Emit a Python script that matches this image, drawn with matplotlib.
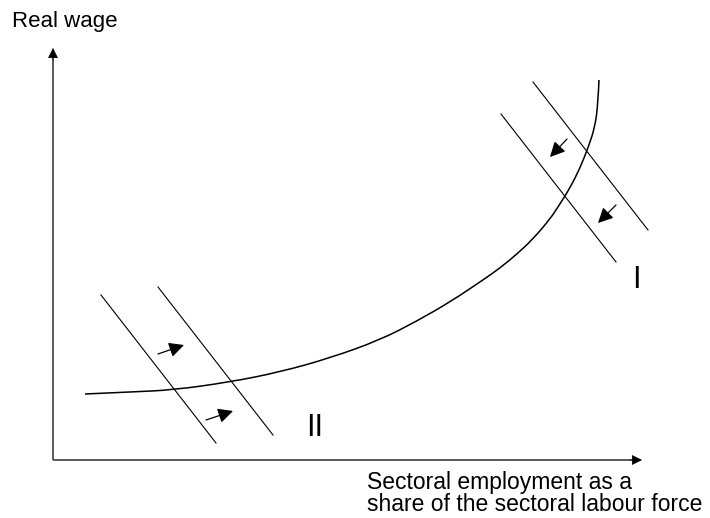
import matplotlib
matplotlib.use("Agg")
import matplotlib.pyplot as plt
from matplotlib.path import Path
from matplotlib.patches import PathPatch

# Coordinates in image pixel space (x right, y down)
curve_x = [85, 130, 173, 230, 280, 330, 380, 417, 450, 483, 500, 517, 533, 550, 558, 570, 580, 588, 595, 598, 599]
curve_y = [394, 392, 390, 382, 372, 358, 340, 321, 302, 280, 268, 254, 239, 219, 207, 188, 168, 148, 127, 103, 80]

# Shifting lines (x0, y0, x1, y1)
lines_I = [(533, 82, 648, 230), (501, 114, 616, 262)]
lines_II = [(101, 295, 216, 443), (158, 287, 273, 435)]

# Small arrows (x_from, y_from, x_to, y_to)
arrows_I = [(567, 139, 550, 157), (616, 205, 598, 223)]
arrows_II = [(158, 354, 184, 345), (206, 420, 233, 411)]

origin = (53, 460)
y_axis_top = 48
x_axis_end = 642

labels = {"I": (636, 288), "II": (315, 436)}
y_label = "Real wage"
x_label_lines = ["Sectoral employment as a", "share of the sectoral labour force"]

plt.rcParams['font.family'] = ['Liberation Sans', 'DejaVu Sans']

fig = plt.figure(figsize=(7.1, 5.18), dpi=100)
ax = fig.add_axes([0, 0, 1, 1])
ax.set_xlim(0, 710)
ax.set_ylim(518, 0)
ax.axis('off')

axis_color = '#595959'
# axes lines
ax.plot([origin[0], origin[0]], [origin[1], y_axis_top + 8], color=axis_color, lw=1.4, solid_capstyle='butt')
ax.plot([origin[0], x_axis_end - 8], [origin[1], origin[1]], color=axis_color, lw=1.4, solid_capstyle='butt')
ax.annotate('', xy=(origin[0], y_axis_top), xytext=(origin[0], y_axis_top + 12),
            arrowprops=dict(arrowstyle='-|>', color='black', lw=0.5, mutation_scale=16, shrinkA=0, shrinkB=0))
ax.annotate('', xy=(x_axis_end, origin[1]), xytext=(x_axis_end - 12, origin[1]),
            arrowprops=dict(arrowstyle='-|>', color='black', lw=0.5, mutation_scale=16, shrinkA=0, shrinkB=0))

# curve: smooth quadratic B-spline path using the read points as control points
pts = list(zip(curve_x, curve_y))
verts = [pts[0]]
codes = [Path.MOVETO]
for i in range(1, len(pts) - 1):
    mid = ((pts[i][0] + pts[i + 1][0]) / 2, (pts[i][1] + pts[i + 1][1]) / 2)
    if i == len(pts) - 2:
        mid = pts[i + 1]
    verts += [pts[i], mid]
    codes += [Path.CURVE3, Path.CURVE3]
ax.add_patch(PathPatch(Path(verts, codes), facecolor='none', edgecolor='black', lw=1.1))

for (x0, y0, x1, y1) in lines_I + lines_II:
    ax.plot([x0, x1], [y0, y1], color='black', lw=0.8)

for (x0, y0, x1, y1) in arrows_I + arrows_II:
    ax.annotate('', xy=(x1, y1), xytext=(x0, y0),
                arrowprops=dict(arrowstyle='-|>,head_length=0.5,head_width=0.25', color='black', lw=0.9,
                                mutation_scale=18, shrinkA=0, shrinkB=0))

for t, (x, y) in labels.items():
    ax.text(x, y, t, ha='center', va='baseline', fontsize=22)

ax.text(12, 27, y_label, ha='left', va='baseline', fontsize=16)
ax.text(367, 489, x_label_lines[0], ha='left', va='baseline', fontsize=16.5)
ax.text(367, 511, x_label_lines[1], ha='left', va='baseline', fontsize=16.5)

fig.savefig('out.png', dpi=100)
